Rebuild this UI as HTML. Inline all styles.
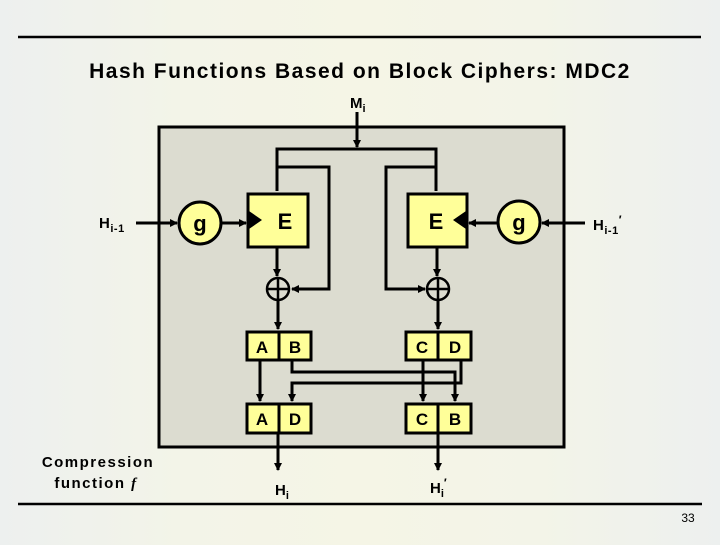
<!DOCTYPE html>
<html><head><style>
body{margin:0;width:720px;height:540px;overflow:hidden;background:linear-gradient(90deg,#edf0ef 0%,#f3f4e8 25%,#f5f5e6 50%,#f3f4e8 75%,#edf0ef 100%);font-family:"Liberation Sans",sans-serif;}
</style></head><body>
<svg width="720" height="540" xmlns="http://www.w3.org/2000/svg" font-family="Liberation Sans, sans-serif" font-weight="bold">
<defs><marker id="a" markerWidth="8" markerHeight="8" refX="7" refY="4" orient="auto" markerUnits="userSpaceOnUse"><path d="M0,0 L8,4 L0,8 z" fill="#000"/></marker></defs>
<line x1="18" y1="37" x2="701" y2="37" stroke="#000" stroke-width="2.5"/>
<text x="360" y="78" font-size="21" text-anchor="middle" letter-spacing="1.5">Hash Functions Based on Block Ciphers: MDC2</text>
<rect x="159" y="127" width="405" height="320" fill="#dcdcd0" stroke="#000" stroke-width="3"/>
<text x="350" y="108" font-size="15">M<tspan font-size="11" dy="4">i</tspan></text>
<g stroke="#000" stroke-width="3" fill="none">
<line x1="357" y1="112" x2="357" y2="147" marker-end="url(#a)"/>
<polyline points="277,191 277,149 436,149 436,191"/>
<polyline points="277,167 329,167 329,289 292,289" marker-end="url(#a)"/>
<polyline points="436,167 386,167 386,289 425,289" marker-end="url(#a)"/>
<line x1="277" y1="247" x2="277" y2="276" marker-end="url(#a)"/>
<line x1="437" y1="247" x2="437" y2="276" marker-end="url(#a)"/>
<line x1="278" y1="300" x2="278" y2="329" marker-end="url(#a)"/>
<line x1="438" y1="300" x2="438" y2="329" marker-end="url(#a)"/>
<line x1="136" y1="223" x2="177" y2="223" marker-end="url(#a)"/>
<line x1="221" y1="223" x2="246" y2="223" marker-end="url(#a)"/>
<line x1="585" y1="223" x2="542" y2="223" marker-end="url(#a)"/>
<line x1="498" y1="223" x2="469" y2="223" marker-end="url(#a)"/>
<line x1="260" y1="361" x2="260" y2="401" marker-end="url(#a)"/>
<line x1="423" y1="361" x2="423" y2="401" marker-end="url(#a)"/>
<polyline points="292,361 292,372 455,372 455,401" marker-end="url(#a)"/>
<polyline points="461,361 461,383 292,383 292,401" marker-end="url(#a)"/>
<line x1="278" y1="434" x2="278" y2="470" marker-end="url(#a)"/>
<line x1="438" y1="434" x2="438" y2="470" marker-end="url(#a)"/>
</g>
<g stroke="#000" stroke-width="3" fill="#ffff99">
<circle cx="200" cy="223" r="21"/><circle cx="519" cy="222" r="21"/>
<rect x="248" y="194" width="60" height="53"/><rect x="408" y="194" width="59" height="53"/>
<rect x="247" y="332" width="64" height="28"/><rect x="406" y="332" width="65" height="28"/>
<rect x="247" y="404" width="64" height="29"/><rect x="406" y="404" width="65" height="29"/>
</g>
<g stroke="#000" stroke-width="3"><line x1="279" y1="332" x2="279" y2="360"/><line x1="438" y1="332" x2="438" y2="360"/><line x1="279" y1="404" x2="279" y2="433"/><line x1="438" y1="404" x2="438" y2="433"/></g>
<path d="M249,211 L262,220 L249,229 z M466,211 L453,220 L466,229 z" fill="#000"/>
<g stroke="#000" stroke-width="2.5" fill="none">
<circle cx="278" cy="289" r="11"/><line x1="267" y1="289" x2="289" y2="289"/><line x1="278" y1="278" x2="278" y2="300"/>
<circle cx="438" cy="289" r="11"/><line x1="427" y1="289" x2="449" y2="289"/><line x1="438" y1="278" x2="438" y2="300"/>
</g>
<g font-size="22" text-anchor="middle"><text x="200" y="231">g</text><text x="519" y="230">g</text><text x="285" y="229">E</text><text x="436" y="229">E</text></g>
<g font-size="17" text-anchor="middle">
<text x="262" y="353">A</text><text x="295" y="353">B</text><text x="422" y="353">C</text><text x="455" y="353">D</text>
<text x="262" y="425">A</text><text x="295" y="425">D</text><text x="422" y="425">C</text><text x="455" y="425">B</text>
</g>
<text x="99" y="228" font-size="15" letter-spacing="0.5">H<tspan font-size="11" dy="4">i-1</tspan></text>
<text x="593" y="230" font-size="15" letter-spacing="0.5">H<tspan font-size="11" dy="4">i-1</tspan><tspan dy="-10" font-size="12">′</tspan></text>
<text x="275" y="495" font-size="15">H<tspan font-size="11" dy="4">i</tspan></text>
<text x="430" y="493" font-size="15">H<tspan font-size="11" dy="4">i</tspan><tspan dy="-10" font-size="12">′</tspan></text>
<text x="98" y="467" font-size="15" text-anchor="middle" letter-spacing="1.5">Compression</text>
<text x="96" y="488" font-size="15" text-anchor="middle" letter-spacing="1.5">function <tspan font-family="Liberation Serif, serif" font-style="italic">f</tspan></text>
<line x1="18" y1="504" x2="702" y2="504" stroke="#000" stroke-width="2.5"/>
<text x="688" y="522" font-size="12" font-weight="normal" text-anchor="middle">33</text>
</svg>
</body></html>
